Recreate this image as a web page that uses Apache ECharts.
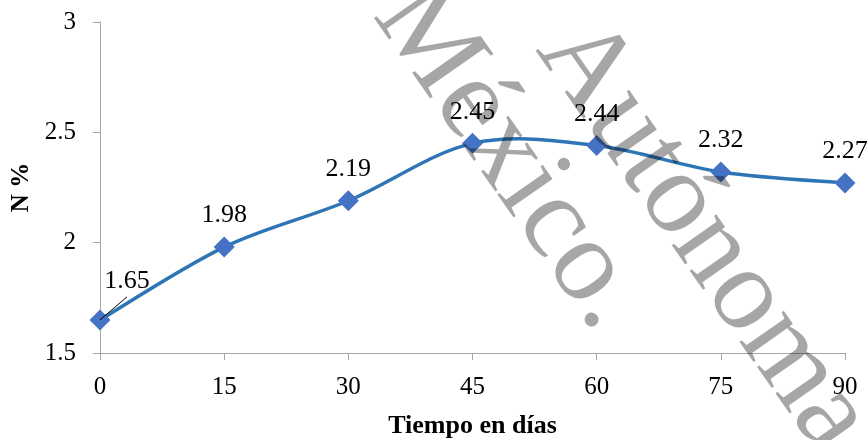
<!DOCTYPE html>
<html>
<head>
<meta charset="utf-8">
<script src="https://cdn.jsdelivr.net/npm/echarts@6/dist/echarts.min.js"></script>
<style>
  html, body { margin: 0; padding: 0; background: #ffffff; }
  #chart { width: 868px; height: 440px; }
</style>
</head>
<body>
<div id="chart"></div>
<script>
// Days of sampling and nitrogen content (%)
const days = ['0', '15', '30', '45', '60', '75', '90'];
const nitrogen = [1.65, 1.98, 2.19, 2.45, 2.44, 2.32, 2.27];
const yTicks = { min: 1.5, max: 3, interval: 0.5 };

const serif = '"Liberation Serif", "Times New Roman", Times, serif';
const axisGray = '#a6a6a6';
const lineBlue = '#2e75b6';

// Pixel offset of the first point's label, which is pulled off to the side
const firstLabelShift = { dx: 27, dy: -7 };

// Catmull-Rom style smoothing between consecutive points (spreadsheet-like curve)
function renderSegment(params, api) {
  const i = params.dataIndex;
  const n = nitrogen.length;
  if (i >= n - 1) return null;
  const clampIdx = (k) => Math.max(0, Math.min(n - 1, k));
  const pt = (k) => api.coord([clampIdx(k), nitrogen[clampIdx(k)]]);
  const p0 = pt(i - 1), p1 = pt(i), p2 = pt(i + 1), p3 = pt(i + 2);
  const t = 1 / 6;
  return {
    type: 'bezierCurve',
    shape: {
      x1: p1[0], y1: p1[1],
      x2: p2[0], y2: p2[1],
      cpx1: p1[0] + (p2[0] - p0[0]) * t, cpy1: p1[1] + (p2[1] - p0[1]) * t,
      cpx2: p2[0] - (p3[0] - p1[0]) * t, cpy2: p2[1] - (p3[1] - p1[1]) * t
    },
    style: { stroke: lineBlue, lineWidth: 3.5, fill: null, lineCap: 'round' }
  };
}

// Thin leader from the first marker's centre towards its displaced label
function renderLeader(params, api) {
  const p = api.coord([api.value(0), api.value(1)]);
  return {
    type: 'line',
    shape: { x1: p[0], y1: p[1], x2: p[0] + 27, y2: p[1] - 23 },
    style: { stroke: '#000', lineWidth: 1 }
  };
}

const chart = echarts.init(document.getElementById('chart'), null, { renderer: 'canvas' });

chart.setOption({
  animation: false,
  backgroundColor: '#ffffff',
  grid: { left: 100, right: 23, top: 22, bottom: 87, containLabel: false, outerBoundsMode: 'none' },
  xAxis: {
    type: 'category',
    data: days,
    boundaryGap: false,
    name: 'Tiempo en días',
    nameLocation: 'middle',
    nameGap: 60,
    nameTextStyle: { fontFamily: serif, fontSize: 26, fontWeight: 'bold', color: '#000' },
    axisLine: { lineStyle: { color: axisGray, width: 1 } },
    axisTick: { show: true, alignWithLabel: true, length: 7, lineStyle: { color: axisGray } },
    axisLabel: { fontFamily: serif, fontSize: 25, color: '#000', margin: 22 },
    splitLine: { show: false }
  },
  yAxis: {
    type: 'value',
    min: yTicks.min,
    max: yTicks.max,
    interval: yTicks.interval,
    name: 'N %',
    nameLocation: 'middle',
    nameRotate: 90,
    nameGap: 66,
    nameTextStyle: { fontFamily: serif, fontSize: 25, fontWeight: 'bold', color: '#000' },
    axisLine: { show: true, lineStyle: { color: axisGray, width: 1 } },
    axisTick: { show: true, length: 7, lineStyle: { color: axisGray } },
    axisLabel: { fontFamily: serif, fontSize: 25, color: '#000', margin: 24 },
    splitLine: { show: false }
  },
  series: [
    {
      type: 'custom',
      data: nitrogen.map((v, i) => [i, v]),
      encode: { x: 0, y: 1 },
      renderItem: renderSegment,
      silent: true,
      z: 1
    },
    {
      type: 'line',
      data: nitrogen,
      symbol: 'diamond',
      symbolSize: 21,
      lineStyle: { width: 0, opacity: 0 },
      itemStyle: { color: '#4472c4' },
      label: {
        show: true,
        position: 'top',
        distance: 8,
        fontFamily: serif,
        fontSize: 26,
        color: '#000'
      },
      labelLayout: function (p) {
        return p.dataIndex === 0 ? firstLabelShift : {};
      },
      z: 3
    },
    {
      type: 'custom',
      data: [[0, nitrogen[0]]],
      encode: { x: 0, y: 1 },
      renderItem: renderLeader,
      silent: true,
      z: 5
    }
  ],
  graphic: [
    {
      type: 'text',
      x: 621, y: 317,
      rotation: -55 * Math.PI / 180,
      silent: true,
      z: 100,
      style: {
        text: 'México.',
        font: '118px ' + serif,
        fill: 'rgba(0,0,0,0.35)',
        textAlign: 'right',
        textVerticalAlign: 'middle'
      }
    },
    {
      type: 'text',
      x: 846, y: 440,
      rotation: -55 * Math.PI / 180,
      silent: true,
      z: 100,
      style: {
        text: 'Autónoma',
        font: '118px ' + serif,
        fill: 'rgba(0,0,0,0.35)',
        textAlign: 'right',
        textVerticalAlign: 'middle'
      }
    }
  ]
});
</script>
</body>
</html>
